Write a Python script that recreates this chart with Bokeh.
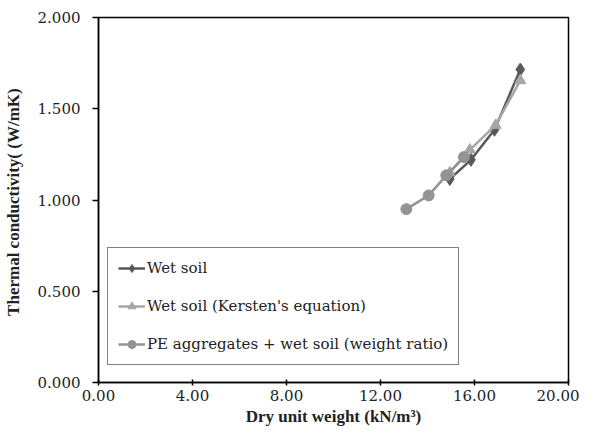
from bokeh.plotting import figure
from bokeh.models import Legend, LegendItem, NumeralTickFormatter, FixedTicker, Range1d
from bokeh.embed import file_html
from bokeh.resources import INLINE

# Data
dry_wet = [14.95, 15.85, 16.85, 17.95]
k_wet = [1.115, 1.22, 1.385, 1.715]

dry_kersten = [14.95, 15.8, 16.9, 17.95]
k_kersten = [1.15, 1.275, 1.41, 1.655]

dry_pe = [13.1, 14.05, 14.8, 15.55]
k_pe = [0.95, 1.025, 1.135, 1.235]

labels = ["Wet soil", "Wet soil (Kersten's equation)", "PE aggregates + wet soil (weight ratio)"]
x_ticks = [0, 4, 8, 12, 16, 20]
y_ticks = [0, 0.5, 1.0, 1.5, 2.0]

TITLE_FONT = "Liberation Serif"
TEXT_FONT = "DejaVu Serif"

p = figure(width=579, height=428, output_backend="svg", toolbar_location=None,
           x_range=Range1d(0, 20), y_range=Range1d(0, 2),
           min_border_left=96, min_border_top=17, min_border_right=11, min_border_bottom=45)

p.xgrid.visible = False
p.ygrid.visible = False
p.outline_line_color = "black"
p.outline_line_width = 1.5
p.background_fill_color = "white"
p.border_fill_color = "white"

for ax in (p.xaxis[0], p.yaxis[0]):
    ax.axis_line_color = "black"
    ax.axis_line_width = 1.5
    ax.major_tick_line_color = "black"
    ax.major_tick_line_width = 1.5
    ax.minor_tick_line_color = None
    ax.major_label_text_font = TEXT_FONT
    ax.major_label_text_font_size = "15px"
    ax.major_label_text_color = "#222222"
    ax.axis_label_text_font = TITLE_FONT
    ax.axis_label_text_font_size = "17px"
    ax.axis_label_text_font_style = "bold"
    ax.axis_label_text_color = "#222222"

p.xaxis.ticker = FixedTicker(ticks=x_ticks)
p.yaxis.ticker = FixedTicker(ticks=y_ticks)
p.xaxis.formatter = NumeralTickFormatter(format="0.00")
p.yaxis.formatter = NumeralTickFormatter(format="0.000")
p.xaxis.major_tick_in = 3
p.xaxis.major_tick_out = 3
p.yaxis.major_tick_in = 0
p.yaxis.major_tick_out = 6
p.xaxis.major_label_standoff = 4
p.yaxis.major_label_standoff = 12
p.xaxis.axis_label_standoff = 3
p.yaxis.axis_label_standoff = 12
p.xaxis.axis_label = "Dry unit weight (kN/m\u00b3)"
p.yaxis.axis_label = "Thermal conductivity(  (W/mK)"

c_wet = "#595959"
c_ker = "#a6a6a6"
c_pe = "#939393"

l1 = p.line(dry_wet, k_wet, line_color=c_wet, line_width=2.5)
s1 = p.scatter(dry_wet, k_wet, marker="diamond", size=13, fill_color=c_wet, line_color=c_wet)
l2 = p.line(dry_kersten, k_kersten, line_color=c_ker, line_width=2.5)
s2 = p.scatter(dry_kersten, k_kersten, marker="triangle", size=11, fill_color=c_ker, line_color=c_ker)
l3 = p.line(dry_pe, k_pe, line_color=c_pe, line_width=2.5)
s3 = p.scatter(dry_pe, k_pe, marker="circle", size=11, fill_color=c_pe, line_color=c_pe)

legend = Legend(items=[
    LegendItem(label=labels[0], renderers=[l1, s1]),
    LegendItem(label=labels[1], renderers=[l2, s2]),
    LegendItem(label=labels[2], renderers=[l3, s3]),
], location=(9, 17))
legend.label_text_font = TEXT_FONT
legend.label_text_font_size = "15px"
legend.label_text_color = "#222222"
legend.border_line_color = "black"
legend.border_line_width = 1.5
legend.background_fill_alpha = 1.0
legend.padding = 10
legend.spacing = 18
legend.label_height = 20
legend.glyph_height = 20
legend.glyph_width = 27
legend.label_standoff = 2
legend.margin = 0
p.add_layout(legend, "center")

open("out.html", "w").write(file_html(p, INLINE))
